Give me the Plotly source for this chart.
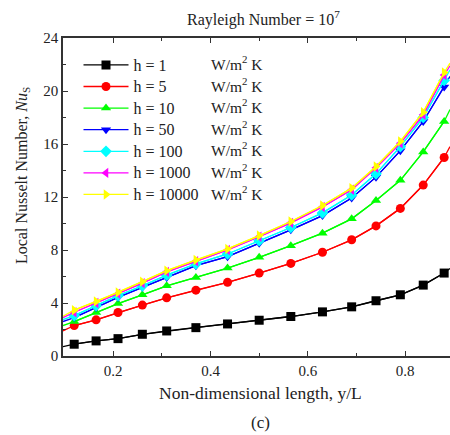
import plotly.graph_objects as go

# x positions (y/L): plot edges first/last, marked points in between
x_pts = [0.097, 0.12, 0.165, 0.21, 0.26, 0.31, 0.37, 0.435, 0.5, 0.565, 0.63, 0.69, 0.74, 0.79, 0.837, 0.88, 0.892]

labels = ["h = 1", "h = 5", "h = 10", "h = 50", "h = 100", "h = 1000", "h = 10000"]
nu_h1 = [0.7, 0.89, 1.14, 1.31, 1.64, 1.89, 2.14, 2.42, 2.70, 2.98, 3.33, 3.71, 4.17, 4.62, 5.35, 6.26, 6.6]
nu_h5 = [1.9, 2.30, 2.73, 3.28, 3.84, 4.39, 4.97, 5.56, 6.26, 6.99, 7.83, 8.77, 9.82, 11.14, 12.9, 14.98, 15.8]
nu_h10 = [2.3, 2.60, 3.28, 3.96, 4.62, 5.30, 5.93, 6.64, 7.45, 8.33, 9.27, 10.35, 11.74, 13.26, 15.4, 17.7, 18.6]
nu_h50 = [2.6, 2.90, 3.66, 4.42, 5.18, 5.93, 6.82, 7.5, 8.51, 9.52, 10.6, 11.92, 13.5, 15.5, 17.7, 20.3, 21.1]
nu_h100 = [2.75, 3.05, 3.8, 4.55, 5.3, 6.1, 6.95, 7.7, 8.7, 9.7, 10.8, 12.15, 13.75, 15.8, 18.0, 20.8, 21.6]
nu_h1000 = [2.9, 3.3, 4.0, 4.7, 5.5, 6.35, 7.15, 8.0, 9.0, 10.05, 11.25, 12.55, 14.2, 16.05, 18.2, 21.2, 21.9]
nu_h10000 = [3.0, 3.46, 4.11, 4.80, 5.61, 6.44, 7.25, 8.08, 9.09, 10.15, 11.36, 12.67, 14.3, 16.2, 18.4, 21.4, 22.1]

series = [nu_h1, nu_h5, nu_h10, nu_h50, nu_h100, nu_h1000, nu_h10000]
colors = ["#000000", "#ff0000", "#00ff00", "#0000ff", "#00ffff", "#ff00ff", "#ffff00"]
symbols = ["square", "circle", "triangle-up", "triangle-down", "diamond", "triangle-left", "triangle-right"]

x_ticks = [0.2, 0.4, 0.6, 0.8]
y_ticks = [0, 4, 8, 12, 16, 20, 24]
unit_text = "W/m<sup>2</sup> K"

FONT = "Liberation Serif"
TXT = "#222"

fig = go.Figure()
for lab, ys, c, s in zip(labels, series, colors, symbols):
    # full curve running to the plot edges
    fig.add_trace(go.Scatter(x=x_pts, y=ys, mode="lines", showlegend=False,
                             line=dict(color=c, width=1.3), hoverinfo="skip"))
    # marked points
    fig.add_trace(go.Scatter(x=x_pts[1:-1], y=ys[1:-1], mode="lines+markers",
                             name="<span style='font-size:16px'>" + lab + "</span>",
                             line=dict(color=c, width=1.3),
                             marker=dict(symbol=s, color=c, size=9, line=dict(width=0))))

fig.update_layout(
    width=450, height=435,
    margin=dict(l=63, r=0, t=38, b=79),
    paper_bgcolor="white", plot_bgcolor="white",
    font=dict(family=FONT, size=15, color=TXT),
    showlegend=True,
    legend=dict(x=(78.5 - 63) / 387, y=0.965, xanchor="left", yanchor="top",
                bgcolor="rgba(0,0,0,0)", font=dict(family=FONT, size=14.3, color=TXT),
                itemwidth=45, tracegroupgap=0),
    xaxis=dict(range=[0.097, 0.892], tickvals=x_ticks, ticktext=[str(v) for v in x_ticks],
               ticks="inside", ticklen=5, tickcolor="#333", showgrid=False, zeroline=False,
               showline=True, linecolor="#333", linewidth=1.5, mirror="ticks",
               minor=dict(tickvals=[0.3, 0.5, 0.7], ticks="inside", ticklen=3, tickcolor="#333"),
               tickfont=dict(family=FONT, size=15, color=TXT)),
    yaxis=dict(range=[0, 24], tickvals=y_ticks, ticks="inside", ticklen=5, tickcolor="#333",
               showgrid=False, zeroline=False, showline=True, linecolor="#333", linewidth=1.5,
               minor=dict(tickvals=[2, 6, 10, 14, 18, 22], ticks="inside", ticklen=3, tickcolor="#333"),
               tickfont=dict(family=FONT, size=15, color=TXT)),
)

# unit column of the legend
for i in range(len(labels)):
    fig.add_annotation(x=(209 - 63) / 387, y=1 - (63 + i * 21.6 - 38) / 318, xref="paper", yref="paper",
                       text=unit_text, showarrow=False, xanchor="left", yanchor="middle",
                       font=dict(family=FONT, size=15.5, color=TXT))

fig.add_annotation(x=(263 - 63) / 387, y=1 + (38 - 18) / 318, xref="paper", yref="paper",
                   text="Rayleigh Number = 10<sup>7</sup>", showarrow=False, yanchor="middle",
                   font=dict(family=FONT, size=16, color=TXT))
fig.add_annotation(x=(260 - 63) / 387, y=-(393 - 356) / 318, xref="paper", yref="paper",
                   text="Non-dimensional length, y/L", showarrow=False, yanchor="middle",
                   font=dict(family=FONT, size=17.5, color=TXT))
fig.add_annotation(x=(260 - 63) / 387, y=-(422 - 356) / 318, xref="paper", yref="paper",
                   text="(c)", showarrow=False, yanchor="middle",
                   font=dict(family=FONT, size=17, color=TXT))
fig.add_annotation(x=(22 - 63) / 387, y=1 - (176 - 38) / 318, xref="paper", yref="paper",
                   text="Local Nusselt Number, <i>Nu</i><sub>S</sub>", showarrow=False,
                   textangle=-90, xanchor="center", yanchor="middle",
                   font=dict(family=FONT, size=16, color=TXT))

fig.write_html("out.html")
